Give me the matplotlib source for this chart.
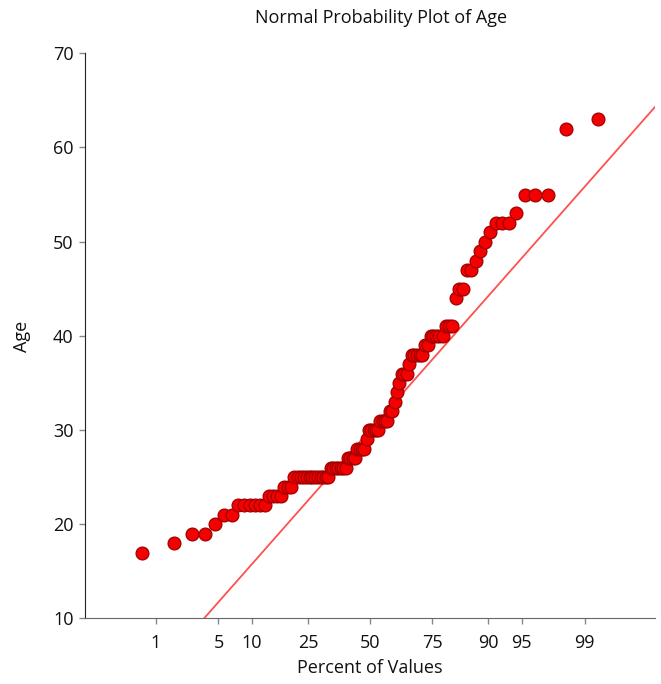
import matplotlib
matplotlib.use("Agg")
import matplotlib.pyplot as plt
from statistics import NormalDist

plt.rcParams['font.family'] = ['Open Sans', 'DejaVu Sans']

# Observed ages and how many respondents reported each one
ages = [17, 18, 19, 20, 21, 22, 23, 24, 25, 26, 27, 28, 29, 30, 31, 32, 33, 34,
        35, 36, 37, 38, 39, 40, 41, 44, 45, 47, 48, 49, 50, 51, 52, 53, 55, 62, 63]
counts = [1, 1, 2, 1, 2, 6, 4, 3, 13, 7, 4, 4, 1, 5, 4, 2, 1, 1,
          1, 3, 1, 5, 2, 5, 3, 1, 2, 2, 1, 1, 1, 1, 3, 1, 3, 1, 1]

# Reference normal line
ref_mean = 30.0
ref_sd = 11.1

percent_ticks = [1, 5, 10, 25, 50, 75, 90, 95, 99]
percent_range = [0.1, 99.9]
y_ticks = [10, 20, 30, 40, 50, 60, 70]

nd = NormalDist()
values = []
for a, c in zip(ages, counts):
    values.extend([a] * c)
values.sort()
n = len(values)
# plotting positions (i - 1/3) / (n + 1/3)
z = [nd.inv_cdf((i + 1 - 1 / 3) / (n + 1 / 3)) for i in range(n)]

fig = plt.figure(figsize=(6.61, 6.84), dpi=100)
ax = fig.add_axes([0.1289, 0.0958, 0.862, 0.8263])

zlo, zhi = nd.inv_cdf(percent_range[0] / 100), nd.inv_cdf(percent_range[1] / 100)
ax.plot([zlo, zhi], [ref_mean + ref_sd * zlo, ref_mean + ref_sd * zhi],
        color='#ff5050', lw=1.3, zorder=2)
ax.scatter(z, values, s=85, facecolor='#f40000', edgecolor='#a00000',
           linewidths=0.9, zorder=3)

ax.set_xlim(zlo, zhi)
ax.set_ylim(10, 70)
ax.set_xticks([nd.inv_cdf(p / 100) for p in percent_ticks])
ax.set_xticklabels([str(p) for p in percent_ticks])
ax.set_yticks(y_ticks)

for s in ('top', 'right'):
    ax.spines[s].set_visible(False)
ax.spines['left'].set_color('#222222')
ax.spines['bottom'].set_color('#666666')
ax.tick_params(axis='both', direction='out', length=4.3, width=1,
               color='#888888', labelsize=13, labelcolor='#111111')
ax.tick_params(axis='x', pad=7)
ax.tick_params(axis='y', pad=4)

ax.set_xlabel('Percent of Values', fontsize=13, labelpad=5, color='#111111')
ax.set_ylabel('Age', fontsize=13, labelpad=16, color='#111111')
fig.text(381 / 661, 1 - 18 / 684, 'Normal Probability Plot of Age',
         ha='center', va='center', fontsize=13, color='#111111')

fig.savefig('out.png', dpi=100)
